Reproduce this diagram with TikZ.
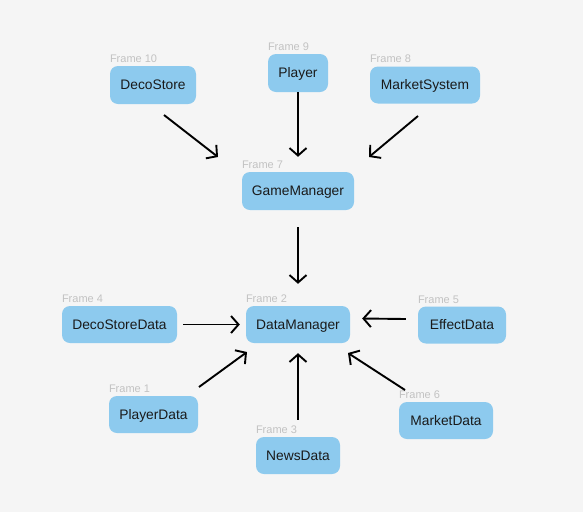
\documentclass[tikz,border=0pt]{standalone}
\usepackage{fontspec}
\setmainfont{Liberation Sans}
\usetikzlibrary{arrows.meta,calc}
\definecolor{bgc}{HTML}{F5F5F5}
\definecolor{boxc}{HTML}{8DCAEE}
\definecolor{txtc}{HTML}{1A1A1A}
\definecolor{lblc}{HTML}{C2C2C2}
\tikzset{
  frame/.style={fill=boxc, rounded corners=8pt, inner sep=0pt, text=txtc,
    font=\fontsize{13.8}{16}\selectfont, minimum height=37pt,
    text height=9.9pt, text depth=0pt},
  flabel/.style={anchor=south west, inner sep=0pt, text=lblc,
    font=\fontsize{11}{13}\selectfont},
  conn/.style={line width=1.9pt, -{Straight Barb[length=7.5pt,width=17pt]}},
}
\begin{document}
\begin{tikzpicture}[x=1pt,y=-1pt]
\fill[bgc] (0,0) rectangle (583,512);
\useasboundingbox (0,0) rectangle (583,512);
% nodes
\node[frame, minimum width=86pt, minimum height=38pt] (ds) at (153,85) {DecoStore};
\node[frame, minimum width=60pt, minimum height=38pt] (pl) at (298,73) {Player};
\node[frame, minimum width=110pt] (ms) at (425,85) {MarketSystem};
\node[frame, minimum width=112pt, minimum height=38pt] (gm) at (298,191) {GameManager};
\node[frame, minimum width=104pt] (dm) at (298,324.5) {DataManager};
\node[frame, minimum width=115pt] (dsd) at (119.5,324.5) {DecoStoreData};
\node[frame, minimum width=88pt] (ed) at (462,325) {EffectData};
\node[frame, minimum width=89pt] (pd) at (153.5,414.5) {PlayerData};
\node[frame, minimum width=84pt] (nd) at (298,455.5) {NewsData};
\node[frame, minimum width=94pt] (md) at (446,420.5) {MarketData};
% frame labels
\node[flabel] (lds) at ($(ds.north west)+(0,-3)$) {Frame 10};
\node[flabel] (lpl) at ($(pl.north west)+(0,-3)$) {Frame 9};
\node[flabel] (lms) at ($(ms.north west)+(0,-3)$) {Frame 8};
\node[flabel] (lgm) at ($(gm.north west)+(0,-3)$) {Frame 7};
\node[flabel] (ldm) at ($(dm.north west)+(0,-3)$) {Frame 2};
\node[flabel] (ldsd) at ($(dsd.north west)+(0,-3)$) {Frame 4};
\node[flabel] (led) at ($(ed.north west)+(0,-3)$) {Frame 5};
\node[flabel] (lpd) at ($(pd.north west)+(0,-3)$) {Frame 1};
\node[flabel] (lnd) at ($(nd.north west)+(0,-3)$) {Frame 3};
\node[flabel] (lmd) at ($(md.north west)+(0,-3)$) {Frame 6};
% connector end points
\coordinate (a1s) at (164,115);
\coordinate (a1e) at (218,157);
\coordinate (a2s) at (418,116);
\coordinate (a2e) at (369,157);
\coordinate (a3s) at (199,387);
\coordinate (a3e) at (247,352);
\coordinate (a4s) at (405,390);
\coordinate (a4e) at (348,353);
% connectors
\draw[conn] (a1s) -- (a1e);
\draw[conn] (pl.south) -- ($(gm.north)+(0,-15)$);
\draw[conn] (a2s) -- (a2e);
\draw[conn] ($(gm.south)+(0,17)$) -- ($(dm.north)+(0,-22)$);
\draw[conn] ($(dsd.east)+(6,0)$) -- ($(dm.west)+(-6,0)$);
\draw[conn] ($(ed.west)+(-12,-6)$) -- ($(dm.east)+(12,-6)$);
\draw[conn] (a3s) -- (a3e);
\draw[conn] ($(nd.north)+(0,-17)$) -- ($(dm.south)+(0,10)$);
\draw[conn] (a4s) -- (a4e);
\end{tikzpicture}
\end{document}
